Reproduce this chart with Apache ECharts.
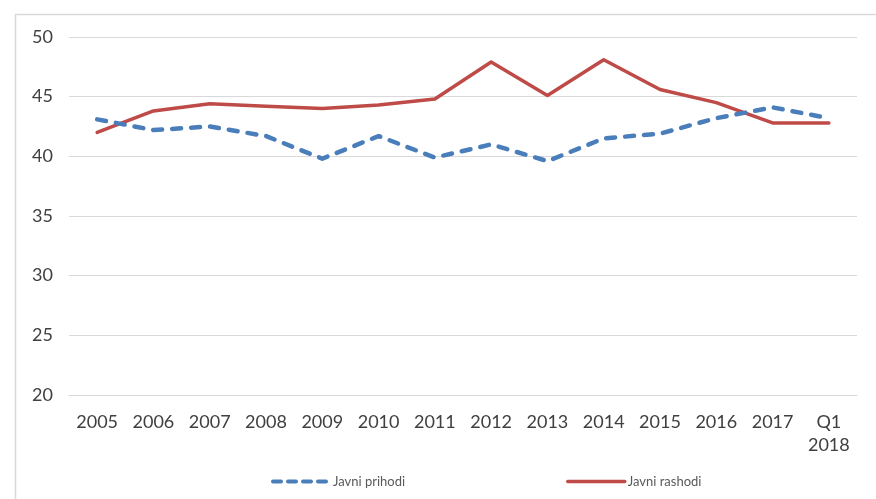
<!DOCTYPE html>
<html>
<head>
<meta charset="utf-8">
<script src="https://cdn.jsdelivr.net/npm/echarts@6/dist/echarts.min.js"></script>
<style>
html,body{margin:0;padding:0;background:#fff;}
#chart{width:876px;height:499px;}
</style>
</head>
<body>
<div id="chart"></div>
<script>
const categories = ['2005','2006','2007','2008','2009','2010','2011','2012','2013','2014','2015','2016','2017','Q1\n2018'];
const javniPrihodi = [43.1, 42.2, 42.5, 41.7, 39.8, 41.7, 39.9, 41.0, 39.6, 41.5, 41.9, 43.2, 44.1, 43.2];
const javniRashodi = [42.0, 43.8, 44.4, 44.2, 44.0, 44.3, 44.8, 47.9, 45.1, 48.1, 45.6, 44.5, 42.8, 42.8];
const yTicks = {min: 20, max: 50, interval: 5};

const chart = echarts.init(document.getElementById('chart'), null, {renderer: 'canvas'});
const fontFamily = 'Lato, "Open Sans", sans-serif';
chart.setOption({
  backgroundColor: '#ffffff',
  animation: false,
  graphic: [{
    type: 'rect',
    left: 13, top: 12,
    shape: {width: 900, height: 520},
    style: {fill: 'none', stroke: '#d9d9d9', lineWidth: 1.5},
    silent: true
  }],
  grid: {left: 69, right: 19, top: 37, bottom: 104, containLabel: false},
  legend: [{
    data: ['Javni prihodi'],
    left: 266, top: 470,
    itemWidth: 57, itemHeight: 10, itemGap: 5,
    textStyle: {fontFamily: fontFamily, fontSize: 13, color: '#595959', padding: [0,0,0,-2]},
    itemStyle: {opacity: 0},
    lineStyle: {width: 4, type: [8, 7], cap: 'round'}
  }, {
    data: ['Javni rashodi'],
    left: 561, top: 470,
    itemWidth: 57, itemHeight: 10, itemGap: 5,
    textStyle: {fontFamily: fontFamily, fontSize: 13, color: '#595959', padding: [0,0,0,-2]},
    itemStyle: {opacity: 0},
    lineStyle: {width: 3.5}
  }],
  xAxis: {
    type: 'category',
    data: categories,
    boundaryGap: true,
    axisLine: {show: true, lineStyle: {color: '#d9d9d9', width: 1}},
    axisTick: {show: false},
    axisLabel: {fontFamily: fontFamily, fontSize: 18, color: '#404040', margin: 16, lineHeight: 23, interval: 0}
  },
  yAxis: {
    type: 'value',
    min: yTicks.min, max: yTicks.max, interval: yTicks.interval,
    axisLine: {show: false},
    axisTick: {show: false},
    splitLine: {lineStyle: {color: '#d9d9d9', width: 1}},
    axisLabel: {fontFamily: fontFamily, fontSize: 18, color: '#404040', margin: 16}
  },
  series: [{
    name: 'Javni prihodi',
    type: 'line',
    data: javniPrihodi,
    symbol: 'none',
    color: '#4a7ebb',
    lineStyle: {color: '#4a7ebb', width: 4.5, type: [9, 10], cap: 'round', join: 'round'},
    z: 3
  }, {
    name: 'Javni rashodi',
    type: 'line',
    data: javniRashodi,
    symbol: 'none',
    color: '#be4b48',
    lineStyle: {color: '#be4b48', width: 3.5, cap: 'round', join: 'round'},
    z: 2
  }]
});
</script>
</body>
</html>
